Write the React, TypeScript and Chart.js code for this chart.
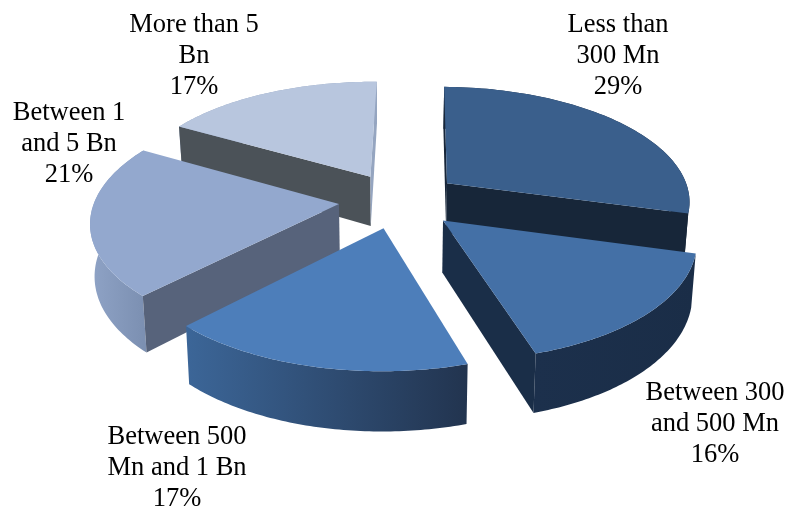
import React, { useEffect, useRef } from "react";
import { Chart, registerables } from "chart.js";

Chart.register(...registerables);

// Company size breakdown, in percent
const categories = [
  ["Less than", "300 Mn"],
  ["Between 300", "and 500 Mn"],
  ["Between 500", "Mn and 1 Bn"],
  ["Between 1", "and 5 Bn"],
  ["More than 5", "Bn"],
];
const shares = [29, 16, 17, 21, 17];

// Slice faces
const topColors = ["#3A5F8C", "#4470A6", "#4D7EBA", "#93A8CE", "#B8C6DE"];
const startWallColors = ["#172639", "#1A2E48", "#22344F", "#57637B", "#4B5258"];
const endWallColors = ["#172639", "#1A2E48", "#22344F", "#57637B", "#95A5C0"];
const rimLeftColors = ["#1E324C", "#1C304C", "#3C6698", "#8FA3C6", "#95A5C0"];
const rimRightColors = ["#172639", "#1A2D47", "#22344F", "#7C90B2", "#95A5C0"];

const explodeOffsets = [70, 61, 53, 54, 62];
// Degrees each slice's pull-out direction departs from its own bisector
const explodeBearings = [-1, -7.6, -3.6, 5.7, 7.5];
const labelCentres = [
  { x: 618, y: 25 },
  { x: 715, y: 393 },
  { x: 177, y: 437 },
  { x: 69, y: 113 },
  { x: 194, y: 25 },
];

const PIE_ROTATION = 1;
const PIE_RADIUS = 245;
const SQUASH = 0.47;
const PERSPECTIVE = 0.14;
const DEPTH = 51;
const DEPTH_GROWTH = 0.15;
const FLOOR_SHRINK = 0.985;
const LINE_STEP = 31;

type Pt = { x: number; y: number };

const signedArea = (pts: Pt[]) =>
  pts.reduce((sum, p, i) => {
    const q = pts[(i + 1) % pts.length];
    return sum + p.x * q.y - q.x * p.y;
  }, 0);

// Lays the flat pie onto a tilted plane and extrudes it downwards.
const tiltedPie = {
  id: "tiltedPie",
  beforeDatasetsDraw(chart: any) {
    const ctx: CanvasRenderingContext2D = chart.ctx;
    const arcs = chart.getDatasetMeta(0).data as any[];

    const shapes = arcs.map((el, index) => {
      const R = el.outerRadius;
      const mid = (el.startAngle + el.endAngle) / 2;
      const pull = mid + (explodeBearings[index] * Math.PI) / 180;
      const ox = Math.cos(pull) * el.options.offset;
      const oy = Math.sin(pull) * el.options.offset;
      const project = (gx: number, gy: number, floor: boolean): Pt => {
        const v = gy / R;
        const w = 1 - PERSPECTIVE * v;
        const x = gx / w;
        const y = (SQUASH * gy) / w;
        return floor
          ? { x: el.x + x * FLOOR_SHRINK, y: el.y + y + DEPTH * (1 + DEPTH_GROWTH * v) }
          : { x: el.x + x, y: el.y + y };
      };
      const rim = (floor: boolean) => {
        const pts: Pt[] = [];
        for (let i = 0; i <= 72; i++) {
          const a = el.startAngle + ((el.endAngle - el.startAngle) * i) / 72;
          pts.push(project(ox + R * Math.cos(a), oy + R * Math.sin(a), floor));
        }
        return pts;
      };
      return {
        index,
        order: Math.sin(mid),
        topRim: rim(false),
        floorRim: rim(true),
        tip: project(ox, oy, false),
        floorTip: project(ox, oy, true),
      };
    });

    const fillPath = (pts: Pt[], fill: string | CanvasGradient) => {
      ctx.beginPath();
      pts.forEach((p, i) => (i ? ctx.lineTo(p.x, p.y) : ctx.moveTo(p.x, p.y)));
      ctx.closePath();
      ctx.fillStyle = fill;
      ctx.fill();
    };

    ctx.save();
    [...shapes]
      .sort((a, b) => a.order - b.order)
      .forEach((s) => {
        const i = s.index;
        const last = s.topRim.length - 1;

        const xs = s.topRim.map((p) => p.x);
        const shade = ctx.createLinearGradient(Math.min(...xs), 0, Math.max(...xs), 0);
        shade.addColorStop(0, rimLeftColors[i]);
        shade.addColorStop(1, rimRightColors[i]);
        fillPath([...s.topRim, ...[...s.floorRim].reverse()], shade);

        // Cut faces are painted only when they turn towards the viewer
        const startFace = [s.tip, s.topRim[0], s.floorRim[0], s.floorTip];
        const endFace = [s.tip, s.topRim[last], s.floorRim[last], s.floorTip];
        if (signedArea(startFace) < 0) fillPath(startFace, startWallColors[i]);
        if (signedArea(endFace) > 0) fillPath(endFace, endWallColors[i]);

        fillPath([s.tip, ...s.topRim], topColors[i]);
      });
    ctx.restore();
    return false;
  },
  afterDraw(chart: any) {
    const ctx: CanvasRenderingContext2D = chart.ctx;
    ctx.save();
    ctx.font = '26.5px "Liberation Serif"';
    ctx.fillStyle = "#000000";
    ctx.textAlign = "center";
    ctx.textBaseline = "middle";
    categories.forEach((lines, i) => {
      const centre = labelCentres[i];
      [...lines, `${shares[i]}%`].forEach((line, row) => {
        ctx.fillText(line, centre.x, centre.y + row * LINE_STEP);
      });
    });
    ctx.restore();
  },
};

export default function App() {
  const canvasRef = useRef<HTMLCanvasElement>(null);

  useEffect(() => {
    const chart = new Chart(canvasRef.current!, {
      type: "pie",
      data: {
        labels: categories.map((c) => c.join(" ")),
        datasets: [
          {
            data: shares,
            backgroundColor: topColors,
            offset: explodeOffsets,
            borderWidth: 0,
          },
        ],
      },
      options: {
        responsive: false,
        animation: false,
        rotation: PIE_ROTATION,
        radius: PIE_RADIUS,
        layout: { padding: { right: 15, bottom: 102 } },
        plugins: { legend: { display: false }, tooltip: { enabled: false } },
      } as any,
      plugins: [tiltedPie],
    });
    return () => chart.destroy();
  }, []);

  return (
    <div style={{ position: "absolute", left: 0, top: 0, width: 801, height: 508, background: "#ffffff" }}>
      <canvas ref={canvasRef} width={801} height={508} style={{ display: "block" }} />
    </div>
  );
}
